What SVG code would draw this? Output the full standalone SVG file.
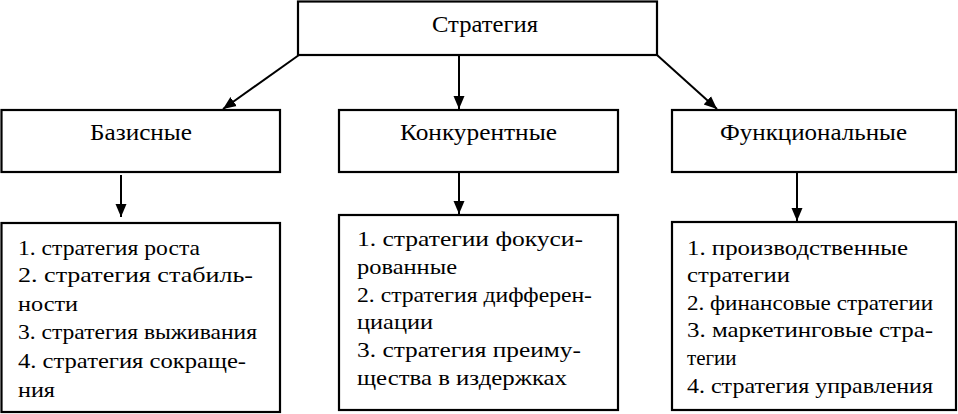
<svg xmlns="http://www.w3.org/2000/svg" width="958" height="414" viewBox="0 0 958 414">
<style>
.box{fill:#fff;stroke:#000;stroke-width:2.2}
.t{font-family:"Liberation Serif","Times New Roman",serif;fill:#000}
.h{font-size:23px}
.l{font-size:21px}
.c{stroke:#000;stroke-width:2;fill:none;marker-end:url(#ah)}
</style>
<defs>
<marker id="ah" markerUnits="userSpaceOnUse" markerWidth="14" markerHeight="14" viewBox="0 0 14 14" refX="13" refY="7" orient="auto">
<path d="M0,1.5 L13,7 L0,12.5 Z" fill="#000"/>
</marker>
</defs>
<rect width="958" height="414" fill="#fff"/>
<g id="connectors">
<line class="c" x1="299" y1="55" x2="223" y2="109"/>
<line class="c" x1="459" y1="55" x2="459" y2="109"/>
<line class="c" x1="657" y1="55" x2="717" y2="109"/>
<line class="c" x1="121" y1="175" x2="121" y2="217"/>
<line class="c" x1="459" y1="173" x2="459" y2="214"/>
<line class="c" x1="797" y1="173" x2="797" y2="221"/>
</g>
<g id="strategy">
<rect class="box" x="298" y="1.5" width="359" height="53.5"/>
<text class="t h" x="432" y="32" textLength="106" lengthAdjust="spacingAndGlyphs">Стратегия</text>
</g>
<g id="basic">
<rect class="box" x="1.5" y="110" width="278.5" height="62"/>
<text class="t h" x="90" y="140" textLength="102" lengthAdjust="spacingAndGlyphs">Базисные</text>
</g>
<g id="competitive">
<rect class="box" x="339" y="110" width="279" height="62"/>
<text class="t h" x="400" y="140" textLength="157" lengthAdjust="spacingAndGlyphs">Конкурентные</text>
</g>
<g id="functional">
<rect class="box" x="672" y="110" width="284" height="62"/>
<text class="t h" x="720" y="140" textLength="187" lengthAdjust="spacingAndGlyphs">Функциональные</text>
</g>
<g id="basic-list">
<rect class="box" x="1.5" y="223" width="278.5" height="189"/>
<text class="t l" x="18" y="255" textLength="182" lengthAdjust="spacingAndGlyphs">1. стратегия роста</text>
<text class="t l" x="18" y="282" textLength="235" lengthAdjust="spacingAndGlyphs">2. стратегия стабиль-</text>
<text class="t l" x="18" y="311" textLength="60" lengthAdjust="spacingAndGlyphs">ности</text>
<text class="t l" x="18" y="339" textLength="239" lengthAdjust="spacingAndGlyphs">3. стратегия выживания</text>
<text class="t l" x="18" y="368" textLength="228" lengthAdjust="spacingAndGlyphs">4. стратегия сокраще-</text>
<text class="t l" x="18" y="397" textLength="37" lengthAdjust="spacingAndGlyphs">ния</text>
</g>
<g id="competitive-list">
<rect class="box" x="339" y="215" width="279" height="195"/>
<text class="t l" x="357" y="246" textLength="226" lengthAdjust="spacingAndGlyphs">1. стратегии фокуси-</text>
<text class="t l" x="357" y="274" textLength="100" lengthAdjust="spacingAndGlyphs">рованные</text>
<text class="t l" x="357" y="302" textLength="235" lengthAdjust="spacingAndGlyphs">2. стратегия дифферен-</text>
<text class="t l" x="357" y="329" textLength="76" lengthAdjust="spacingAndGlyphs">циации</text>
<text class="t l" x="357" y="357" textLength="224" lengthAdjust="spacingAndGlyphs">3. стратегия преиму-</text>
<text class="t l" x="357" y="385" textLength="210" lengthAdjust="spacingAndGlyphs">щества в издержках</text>
</g>
<g id="functional-list">
<rect class="box" x="672" y="222" width="284" height="188"/>
<text class="t l" x="687" y="255" textLength="221" lengthAdjust="spacingAndGlyphs">1. производственные</text>
<text class="t l" x="687" y="282" textLength="103" lengthAdjust="spacingAndGlyphs">стратегии</text>
<text class="t l" x="687" y="310" textLength="246" lengthAdjust="spacingAndGlyphs">2. финансовые стратегии</text>
<text class="t l" x="687" y="337" textLength="246" lengthAdjust="spacingAndGlyphs">3.  маркетинговые стра-</text>
<text class="t l" x="687" y="365">тегии</text>
<text class="t l" x="687" y="393" textLength="246" lengthAdjust="spacingAndGlyphs">4. стратегия управления</text>
</g>
</svg>
